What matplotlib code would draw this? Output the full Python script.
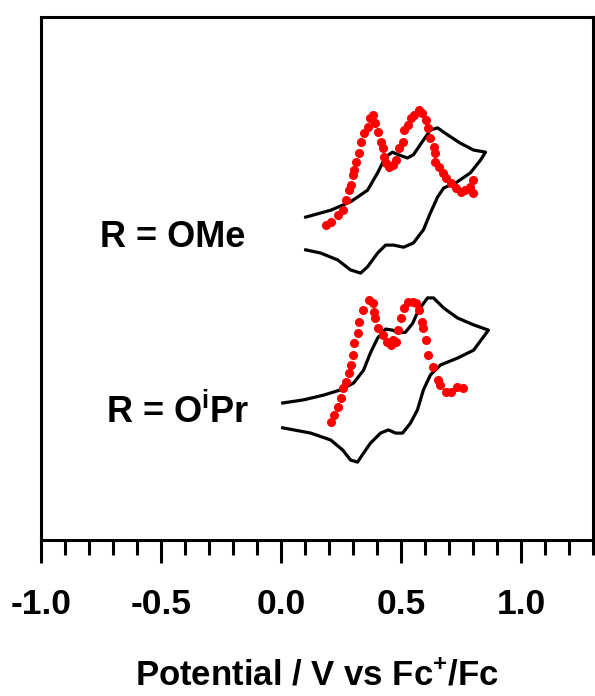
import matplotlib
matplotlib.use("Agg")
import matplotlib.pyplot as plt
from matplotlib.ticker import MultipleLocator

plt.rcParams['font.family'] = ['Liberation Sans', 'DejaVu Sans']
plt.rcParams['font.weight'] = 'bold'
plt.rcParams['mathtext.fontset'] = 'custom'
plt.rcParams['mathtext.rm'] = 'Liberation Sans:bold'
plt.rcParams['mathtext.bf'] = 'Liberation Sans:bold'

# CV, R = OMe (potential in V vs Fc+/Fc, current in arbitrary offset units)
cv_ome_e = [0.102, 0.206, 0.289, 0.360, 0.402, 0.435, 0.464, 0.489, 0.526, 0.551,
            0.593, 0.622, 0.652, 0.693, 0.747, 0.802, 0.852, 0.831, 0.789, 0.735,
            0.677, 0.652, 0.622, 0.593, 0.551, 0.510, 0.468, 0.435, 0.402, 0.360,
            0.331, 0.289, 0.235, 0.164, 0.102]
cv_ome_i = [6.21, 6.34, 6.50, 6.72, 7.05, 7.35, 7.44, 7.39, 7.33, 7.39,
            7.67, 7.86, 7.90, 7.77, 7.61, 7.48, 7.44, 7.29, 7.05, 6.88,
            6.76, 6.59, 6.29, 5.97, 5.72, 5.64, 5.68, 5.68, 5.53, 5.27,
            5.15, 5.21, 5.40, 5.53, 5.59]

# DPV, R = OMe
dpv_ome_e = [0.185, 0.206, 0.235, 0.256, 0.269, 0.281, 0.289, 0.298, 0.302, 0.310,
             0.323, 0.331, 0.343, 0.360, 0.372, 0.381, 0.393, 0.402, 0.414, 0.423,
             0.427, 0.435, 0.448, 0.464, 0.477, 0.489, 0.506, 0.510, 0.527, 0.539,
             0.552, 0.573, 0.589, 0.602, 0.610, 0.622, 0.635, 0.643, 0.643, 0.656,
             0.673, 0.685, 0.706, 0.727, 0.748, 0.768, 0.789, 0.798, 0.798]
dpv_ome_i = [6.06, 6.12, 6.25, 6.34, 6.53, 6.72, 6.82, 7.01, 7.10, 7.25,
             7.42, 7.63, 7.80, 7.92, 8.09, 8.14, 7.99, 7.82, 7.63, 7.52,
             7.35, 7.23, 7.16, 7.20, 7.29, 7.52, 7.63, 7.86, 7.95, 8.09,
             8.14, 8.24, 8.18, 8.05, 7.90, 7.71, 7.54, 7.42, 7.25, 7.16,
             7.05, 6.95, 6.86, 6.76, 6.69, 6.72, 6.78, 6.91, 6.67]

# CV, R = OiPr
cv_oipr_e = [0.006, 0.094, 0.177, 0.248, 0.302, 0.343, 0.372, 0.402, 0.435, 0.464,
             0.489, 0.518, 0.548, 0.573, 0.610, 0.635, 0.677, 0.735, 0.802, 0.864,
             0.843, 0.802, 0.735, 0.664, 0.622, 0.593, 0.568, 0.539, 0.506, 0.477,
             0.447, 0.414, 0.372, 0.343, 0.318, 0.289, 0.256, 0.206, 0.123, 0.006]
cv_oipr_i = [2.69, 2.75, 2.84, 2.94, 3.07, 3.31, 3.64, 3.92, 4.09, 4.07,
             4.02, 4.03, 4.20, 4.45, 4.68, 4.68, 4.49, 4.30, 4.17, 4.07,
             3.94, 3.69, 3.54, 3.41, 3.22, 2.94, 2.56, 2.31, 2.12, 2.12,
             2.18, 2.12, 1.93, 1.74, 1.57, 1.61, 1.80, 1.99, 2.12, 2.22]

# DPV, R = OiPr
dpv_oipr_e = [0.206, 0.219, 0.235, 0.248, 0.256, 0.269, 0.281, 0.289, 0.298, 0.302,
              0.318, 0.323, 0.339, 0.364, 0.381, 0.385, 0.393, 0.402, 0.423, 0.443,
              0.456, 0.464, 0.477, 0.485, 0.498, 0.510, 0.527, 0.548, 0.560, 0.573,
              0.589, 0.593, 0.602, 0.614, 0.631, 0.652, 0.664, 0.685, 0.706, 0.735,
              0.756]
dpv_oipr_i = [2.33, 2.46, 2.61, 2.78, 2.97, 3.09, 3.26, 3.41, 3.60, 3.83,
              4.02, 4.22, 4.45, 4.64, 4.58, 4.41, 4.30, 4.11, 3.98, 3.84,
              3.79, 3.88, 3.84, 4.07, 4.30, 4.49, 4.60, 4.60, 4.58, 4.45,
              4.22, 4.11, 3.88, 3.60, 3.37, 3.13, 3.03, 2.90, 2.90, 2.99,
              2.97]

labels = ['R = OMe', 'R = O$^{\\mathbf{i}}$Pr']
label_pos = [(-0.755, 5.64), (-0.73, 2.31)]

fig = plt.figure(figsize=(5.95, 6.96), dpi=100)
ax = fig.add_axes([0.0697, 0.2241, 0.9269, 0.7515])

ax.plot(cv_ome_e, cv_ome_i, color='black', lw=2.3, solid_joinstyle='round')
ax.plot(dpv_ome_e, dpv_ome_i, 'o', color='red', ms=5.5, mec='red', ls='none')
ax.plot(cv_oipr_e, cv_oipr_i, color='black', lw=2.3, solid_joinstyle='round')
ax.plot(dpv_oipr_e, dpv_oipr_i, 'o', color='red', ms=5.5, mec='red', ls='none')

for txt, (x, y) in zip(labels, label_pos):
    ax.text(x, y, txt, fontsize=26, fontweight='bold', ha='left', va='baseline')

ax.set_xlim(-1.0, 1.3)
ax.set_ylim(0.095, 10.0)
ax.xaxis.set_major_locator(MultipleLocator(0.5))
ax.xaxis.set_minor_locator(MultipleLocator(0.1))
ax.set_xticks([-1.0, -0.5, 0.0, 0.5, 1.0])
ax.set_xticklabels(['-1.0', '-0.5', '0.0', '0.5', '1.0'])
ax.tick_params(axis='x', which='major', direction='out', length=16.5, width=2.2,
               pad=18, labelsize=25.5)
ax.tick_params(axis='x', which='minor', direction='out', length=10.5, width=2.2)
ax.set_yticks([])
for s in ax.spines.values():
    s.set_linewidth(2.2)

ax.set_xlabel('Potential / V vs Fc$^{\\mathbf{+}}$/Fc', fontsize=25,
              fontweight='bold', labelpad=28)

fig.savefig('out.png', dpi=100)
